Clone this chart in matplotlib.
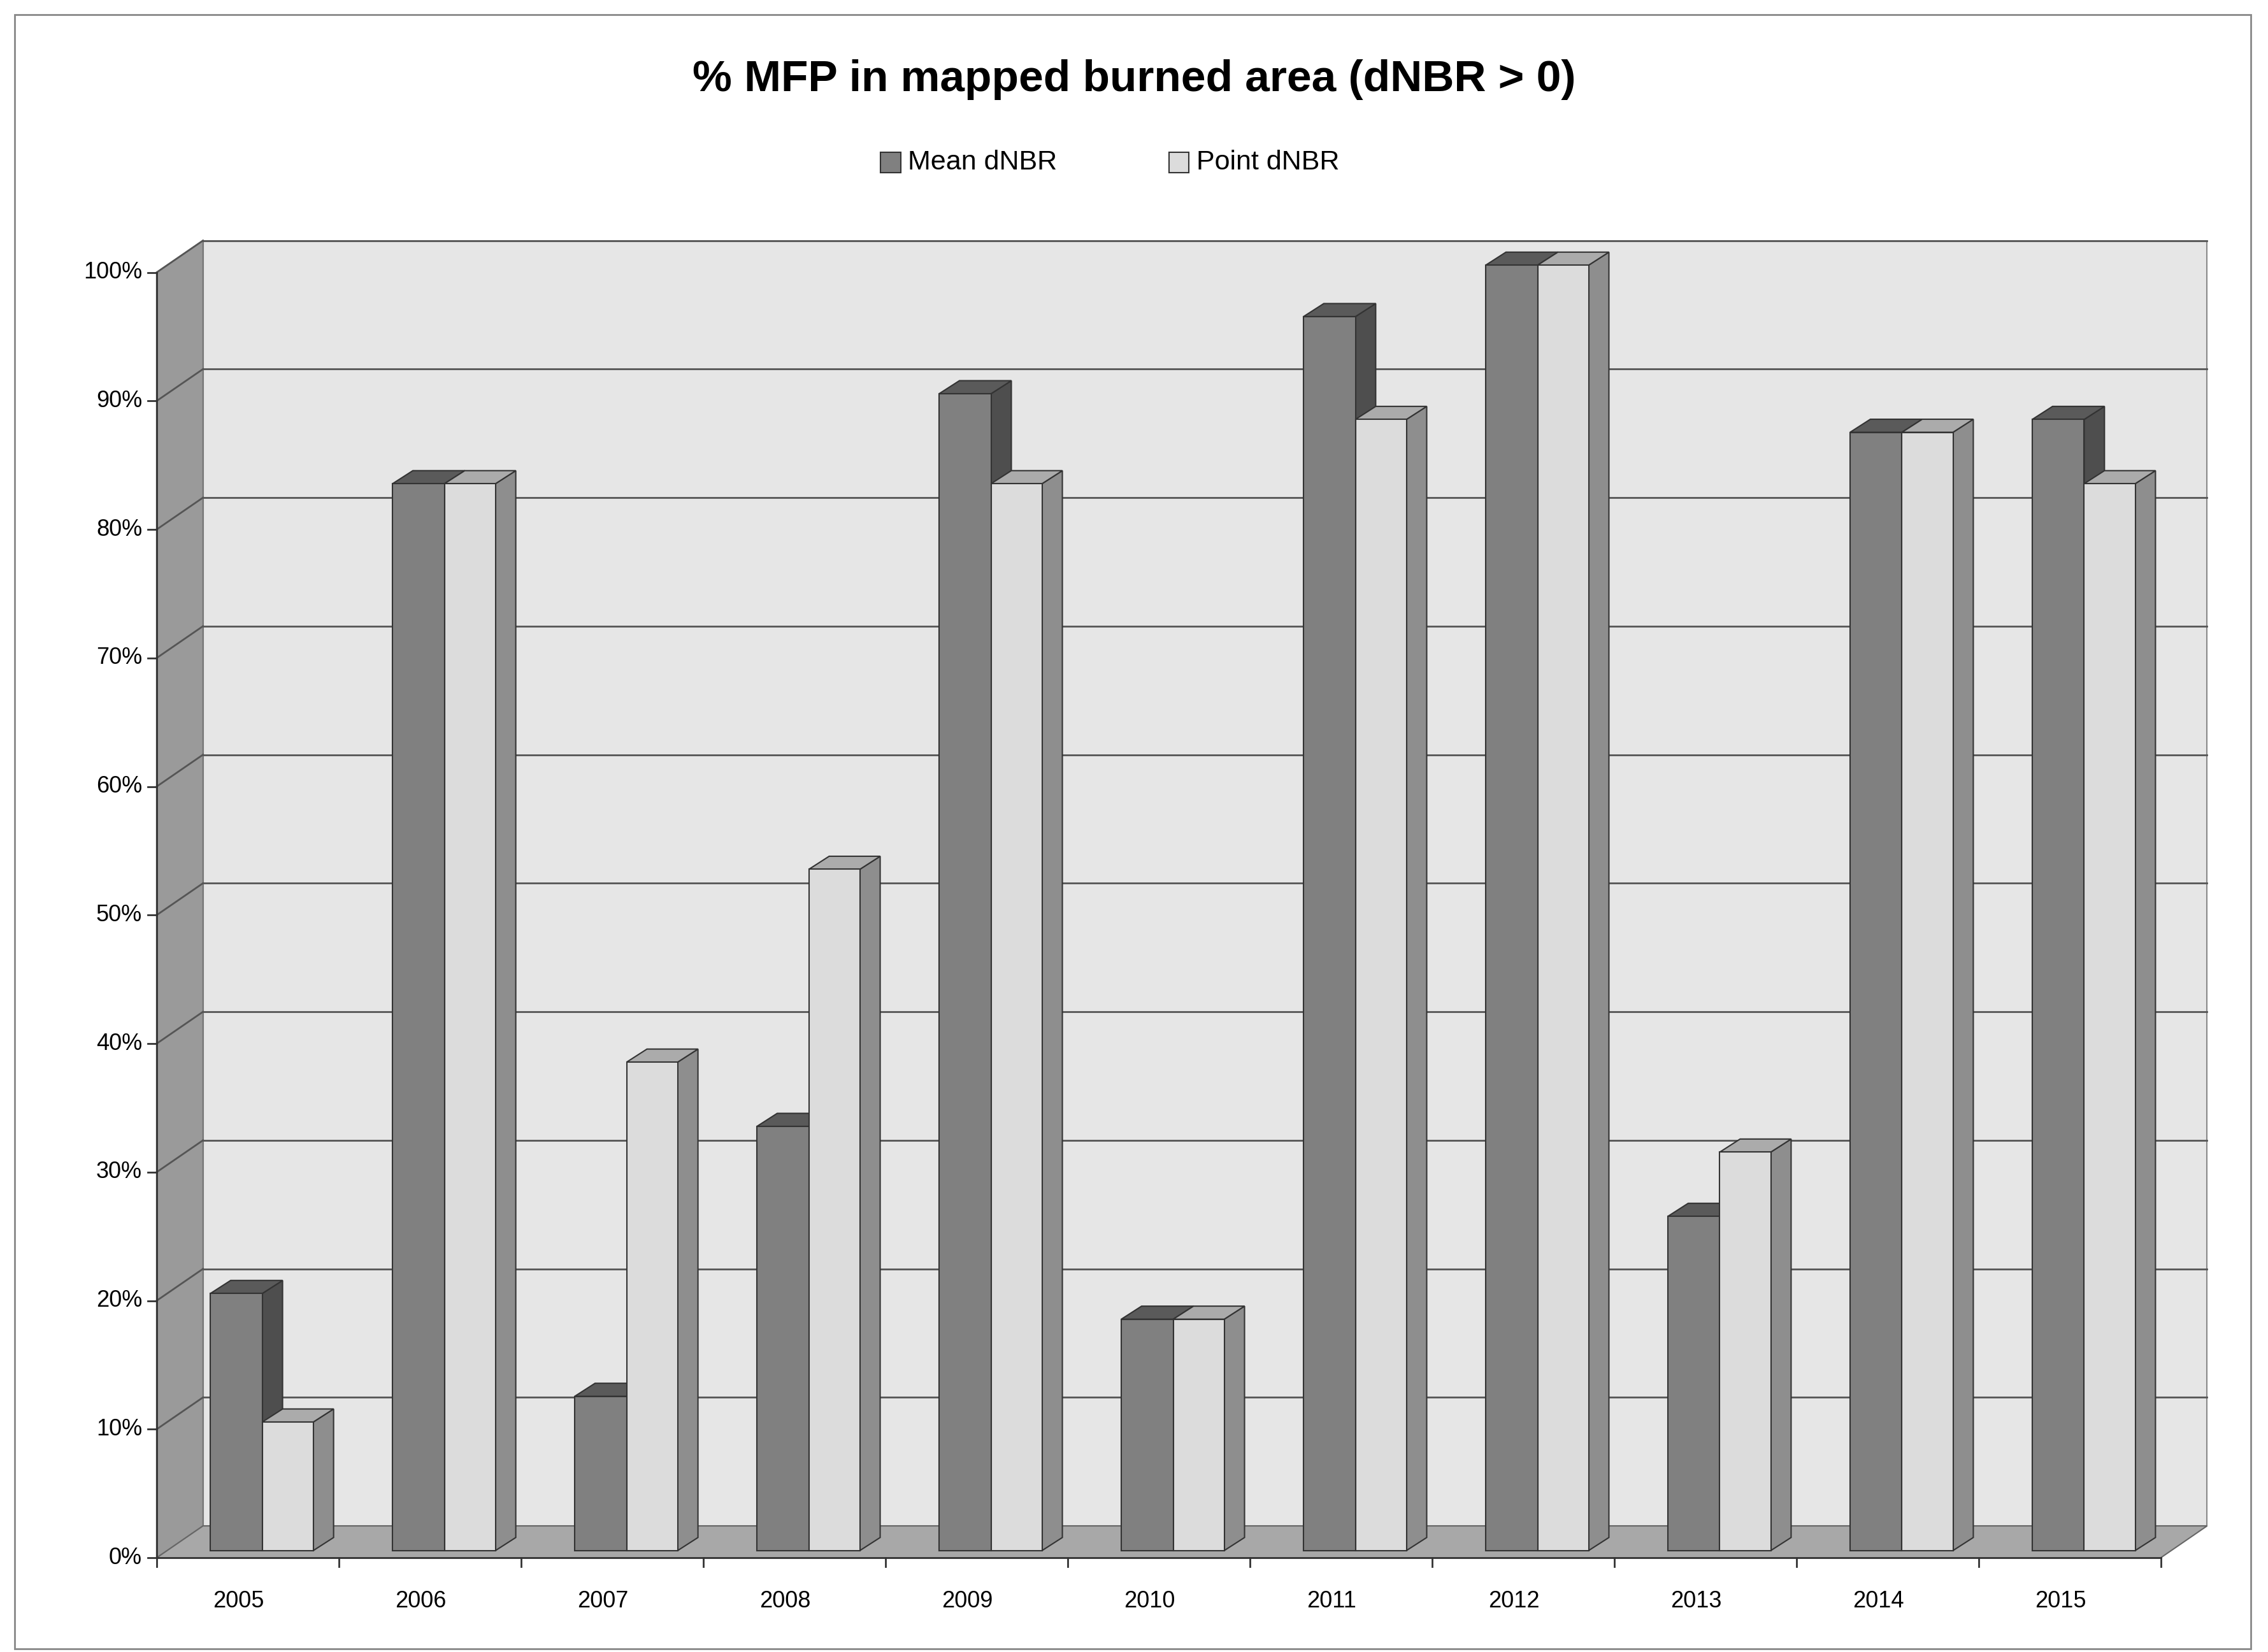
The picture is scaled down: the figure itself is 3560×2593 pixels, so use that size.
import matplotlib
matplotlib.use("Agg")
import matplotlib.pyplot as plt
from matplotlib.patches import Polygon, Rectangle
from matplotlib.transforms import IdentityTransform

years = ["2005", "2006", "2007", "2008", "2009", "2010", "2011", "2012", "2013", "2014", "2015"]
mean_dnbr = [20, 83, 12, 33, 90, 18, 96, 100, 26, 87, 88]
point_dnbr = [10, 83, 38, 53, 83, 18, 88, 100, 31, 87, 83]

S = 3560 / 1564  # reference display px -> output px
fig = plt.figure(figsize=(35.6, 25.93), dpi=100)
fig.patch.set_facecolor("white")
ax = fig.add_axes([108 / 1564, 1 - 1075 / 1140, 1382 / 1564, 887 / 1140])
ax.set_xlim(-0.5, len(years) - 0.5)
ax.set_ylim(0, 100)
ax.axis("off")

ident = IdentityTransform()


def P(x, y, ox=0, oy=0):
    px, py = ax.transData.transform((x, y))
    return (px + ox * S, py + oy * S)


def poly(pts, fc, ec="#333333", lw=1.5, z=1):
    ax.add_patch(Polygon(pts, closed=True, facecolor=fc, edgecolor=ec, lw=lw,
                         transform=ident, clip_on=False, zorder=z))


BX, BY = 32, 22  # back wall offset
x0, x1 = -0.5, len(years) - 0.5
# back wall
poly([P(x0, 0, BX, BY), P(x1, 0, BX, BY), P(x1, 100, BX, BY), P(x0, 100, BX, BY)], "#e6e6e6", "#888888")
# left wall
poly([P(x0, 0), P(x0, 0, BX, BY), P(x0, 100, BX, BY), P(x0, 100)], "#9a9a9a", "#777777")
# floor
poly([P(x0, 0), P(x1, 0), P(x1, 0, BX, BY), P(x0, 0, BX, BY)], "#a8a8a8", "#666666")

for g in range(10, 101, 10):
    a, b = P(x0, g, BX, BY), P(x1, g, BX, BY)
    ax.plot([a[0], b[0]], [a[1], b[1]], color="#555555", lw=2, transform=ident, clip_on=False, zorder=2)
    c = P(x0, g)
    ax.plot([c[0], a[0]], [c[1], a[1]], color="#555555", lw=2, transform=ident, clip_on=False, zorder=2)

DX, DY = 14, 9  # bar depth
BO = 5  # bar front plane lift


def bar(l, r, h, front, top, side):
    fl, fr = P(l, 0, 0, BO), P(r, 0, 0, BO)
    tl, tr = P(l, h, 0, BO), P(r, h, 0, BO)
    d = (DX * S, DY * S)
    poly([fr, (fr[0] + d[0], fr[1] + d[1]), (tr[0] + d[0], tr[1] + d[1]), tr], side, z=3)
    poly([tl, tr, (tr[0] + d[0], tr[1] + d[1]), (tl[0] + d[0], tl[1] + d[1])], top, z=3)
    poly([fl, fr, tr, tl], front, z=3)


for i in range(len(years)):
    bar(i - 0.205, i + 0.08, mean_dnbr[i], "#808080", "#5a5a5a", "#4e4e4e")
    bar(i + 0.08, i + 0.36, point_dnbr[i], "#dcdcdc", "#ababab", "#8e8e8e")

# axes lines and ticks
a, b = P(x0, 0), P(x0, 100)
ax.plot([a[0], b[0]], [a[1], b[1]], color="#333333", lw=2, transform=ident, clip_on=False, zorder=4)
for g in range(0, 101, 10):
    p = P(x0, g)
    ax.plot([p[0] - 6 * S, p[0]], [p[1], p[1]], color="#333333", lw=2, transform=ident, clip_on=False, zorder=4)
    ax.text(p[0] - 10 * S, p[1], f"{g}%", ha="right", va="center", fontsize=26,
            transform=ident, family="Liberation Sans")
a, b = P(x0, 0), P(x1, 0)
ax.plot([a[0], b[0]], [a[1], b[1]], color="#333333", lw=2, transform=ident, clip_on=False, zorder=4)
for k in range(len(years) + 1):
    p = P(k - 0.5, 0)
    ax.plot([p[0], p[0]], [p[1], p[1] - 6 * S], color="#333333", lw=2, transform=ident, clip_on=False, zorder=4)
for i, yr in enumerate(years):
    p = P(i - 0.05, 0)
    ax.text(p[0], p[1] - 30 * S, yr, ha="center", va="center", fontsize=26,
            transform=ident, family="Liberation Sans")

fig.text(0.5, 1 - 55 / 1140, "% MFP in mapped burned area (dNBR > 0)", ha="center", va="center",
         fontsize=50, fontweight="bold", family="Liberation Sans")
# legend
ly = 1 - 112 / 1140
for xs, col, lab in [(607, "#808080", "Mean dNBR"), (806, "#dcdcdc", "Point dNBR")]:
    fig.patches.append(Rectangle((xs / 1564, ly - 7 / 1140), 14 / 1564, 14 / 1140, transform=fig.transFigure,
                                 facecolor=col, edgecolor="#333333", lw=1.5))
    fig.text((xs + 19) / 1564, ly, lab, ha="left", va="center", fontsize=31, family="Liberation Sans")

fig.patches.append(Rectangle((10 / 1564, 2 / 1140), 1542 / 1564, 1128 / 1140, transform=fig.transFigure,
                             fill=False, edgecolor="#888888", lw=2))

fig.savefig("out.png", dpi=100)
